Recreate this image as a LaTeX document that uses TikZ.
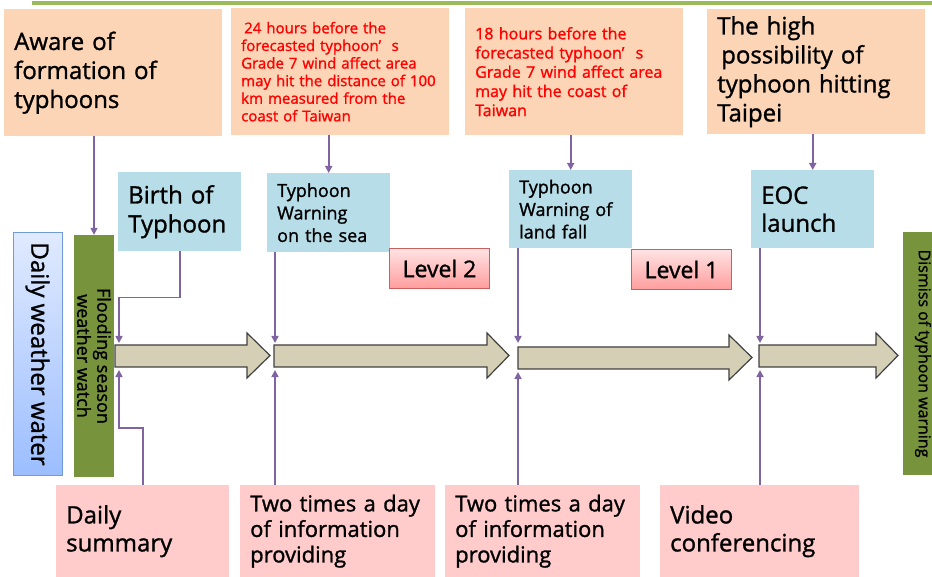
\documentclass[tikz,border=0pt]{standalone}
\usepackage{fontspec}
\setmainfont{Open Sans}[FakeBold=1.2]
\usepackage{tikz}
\usetikzlibrary{arrows.meta}
\definecolor{peach}{HTML}{FBD5B5}
\definecolor{skyblue}{HTML}{B7DEE8}
\definecolor{rosepink}{HTML}{FFCBCB}
\definecolor{olivegreen}{HTML}{77933C}
\definecolor{linegreen}{HTML}{9BBB59}
\definecolor{linkpurple}{HTML}{8064A2}
\definecolor{arrowtan}{HTML}{D5D0B5}
\definecolor{levelborder}{HTML}{C9605D}
\definecolor{leveltop}{HTML}{FFE3E3}
\definecolor{levelbottom}{HTML}{FF9D9D}
\definecolor{watertop}{HTML}{E0EAFF}
\definecolor{waterbottom}{HTML}{9CBEFF}
\definecolor{waterborder}{HTML}{6F9CD6}

\begin{document}
\begin{tikzpicture}[x=1pt, y=-1pt,
    box/.style={anchor=north west, inner xsep=10pt, inner ysep=0pt, align=left},
    topbox/.style={box, fill=peach, text width=198pt, minimum height=127pt},
    eventbox/.style={box, fill=skyblue, text width=103pt, minimum height=79pt},
    actionbox/.style={box, fill=rosepink, minimum height=92pt},
    levelbox/.style={anchor=north west, draw=levelborder, line width=1pt, top color=leveltop,
        bottom color=levelbottom, minimum width=100pt, minimum height=40pt, inner sep=0pt,
        font=\fontsize{23}{27}\selectfont},
    sidebox/.style={rotate=-90, minimum width=242pt, inner sep=0pt, align=center},
    bigtext/.style={font=\fontsize{24}{29}\selectfont},
    midtext/.style={font=\fontsize{18}{22.5}\selectfont},
    redtext/.style={text=red},
    link/.style={draw=linkpurple, line width=1.6pt, -{Triangle[width=7pt,length=7pt]}},
    timearrow/.style={draw=black!75, line width=1.2pt, fill=arrowtan, line join=miter}]
    \useasboundingbox (0,0) rectangle (932,577);
    \clip (0,0) rectangle (932,577);
    \draw[linegreen, line width=4pt] (32,3.5) -- (932,3.5);
    \node[topbox, bigtext] (aware) at (4,9) {Aware of\\formation of\\typhoons};
    \node[topbox, redtext, font=\fontsize{15}{17.6}\selectfont] (info24) at (231,8)
        {\hspace*{3pt}24 hours before the\\forecasted typhoon’\hspace{0.7em}s\\Grade 7 wind affect area\\may hit the distance of 100\\km measured from the\\coast of Taiwan};
    \node[topbox, redtext, font=\fontsize{16}{19.2}\selectfont] (info18) at (465,8)
        {18 hours before the\\forecasted typhoon’\hspace{0.7em}s\\Grade 7 wind affect area\\may hit the coast of\\Taiwan};
    \node[topbox, bigtext, minimum height=125pt] (taipei) at (707,9)
        {The high\\\hspace*{4pt}possibility of\\typhoon hitting\\Taipei};
    \node[eventbox, bigtext] (birth) at (118,172) {Birth of\\Typhoon};
    \node[eventbox, midtext] (sea) at (267,173) {Typhoon\\Warning\\on the sea};
    \node[eventbox, midtext, minimum height=78pt] (fall) at (509,170) {Typhoon\\Warning of\\land fall};
    \node[eventbox, font=\fontsize{24}{28}\selectfont, minimum height=78pt] (eoc) at (751,170) {EOC\\launch};
    \node[levelbox] (lvtwo) at (389,248) {Level 2};
    \node[levelbox] (lvone) at (631,249) {Level 1};
    \node[sidebox, draw=waterborder, line width=1pt, top color=watertop, bottom color=waterbottom,
        minimum height=49pt, bigtext] (water) at (37.5,354) {Daily weather water};
    \node[sidebox, fill=olivegreen, minimum height=40pt, font=\fontsize{18}{20}\selectfont] (flood) at (94,356)
        {Flooding season\\weather watch};
    \node[sidebox, fill=olivegreen, minimum height=40pt, font=\fontsize{16}{19}\selectfont] (dismiss) at (923,353.5)
        {Dismiss of typhoon warning};
    \node[actionbox, text width=153pt, font=\fontsize{24}{28}\selectfont] (daily) at (56,485) {Daily\\summary};
    \node[actionbox, text width=175pt, font=\fontsize{22}{25.5}\selectfont] (twiceA) at (240,485)
        {Two times a day\\of information\\providing};
    \node[actionbox, text width=175pt, font=\fontsize{22}{25.5}\selectfont] (twiceB) at (445,485)
        {Two times a day\\of information\\providing};
    \node[actionbox, text width=179pt, font=\fontsize{24}{28}\selectfont] (video) at (660,485) {Video\\conferencing};
    \foreach \xl/\xb/\xt/\dy in {115/247/270/0, 274/487/509/0, 518/729/752/2, 759/876/898/0}
        \filldraw[timearrow] (\xl,345+\dy) -- (\xb,345+\dy) -- (\xb,333+\dy) -- (\xt,355.5+\dy)
            -- (\xb,378+\dy) -- (\xb,367+\dy) -- (\xl,367+\dy) -- cycle;
    \coordinate (onetop) at (119,343);
    \coordinate (onebot) at (119,370);
    \coordinate (twotop) at (275,343);
    \coordinate (twobot) at (275,370);
    \coordinate (threetop) at (518,343);
    \coordinate (threebot) at (518,372);
    \coordinate (fourtop) at (760,343);
    \coordinate (fourbot) at (760,370);
    \draw[link] (aware.south -| flood.west) -- (flood.west);
    \draw[link] (info24.south -| sea.north) -- (sea.north);
    \draw[link] (info18.south -| fall.north) -- (fall.north);
    \draw[link] (taipei.south -| eoc.north) -- (eoc.north);
    \draw[link] (birth.south) -- ++(0,46) -| (onetop);
    \draw[link] (sea.south -| twotop) -- (twotop);
    \draw[link] (fall.south -| threetop) -- (threetop);
    \draw[link] (eoc.south -| fourtop) -- (fourtop);
    \draw[link] (daily.north) -- ++(0,-57) -| (onebot);
    \draw[link] (twiceA.north -| twobot) -- (twobot);
    \draw[link] (twiceB.north -| threebot) -- (threebot);
    \draw[link] (video.north -| fourbot) -- (fourbot);
\end{tikzpicture}
\end{document}
